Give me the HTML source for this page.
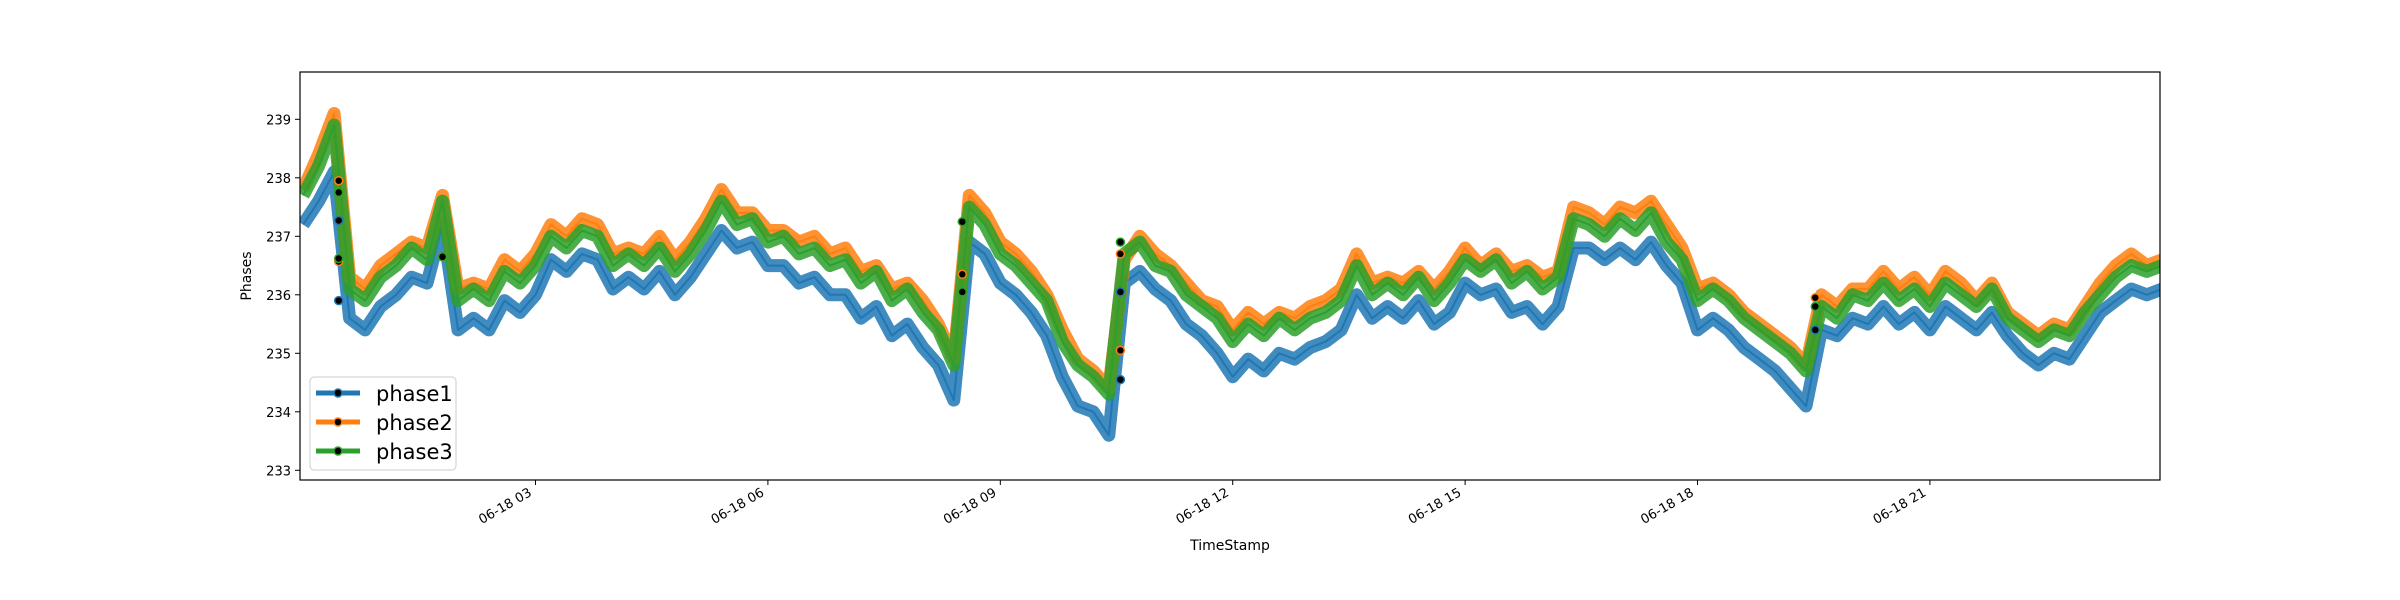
<!DOCTYPE html>
<html><head><meta charset="utf-8"><style>
html,body{margin:0;padding:0;background:#fff}
svg{display:block;font-family:"DejaVu Sans","Liberation Sans",sans-serif}
</style></head><body>
<svg id="chart" width="2400" height="600" viewBox="0 0 2400 600" xmlns="http://www.w3.org/2000/svg">
<defs><clipPath id="plotclip"><rect x="300" y="72" width="1860" height="408"/></clipPath></defs>
<rect x="0" y="0" width="2400" height="600" fill="#fff"/>
<g id="series" clip-path="url(#plotclip)"></g>
<g id="markers" clip-path="url(#plotclip)"></g>
<rect x="300" y="72" width="1860" height="408" fill="none" stroke="#000" stroke-width="1.2"/>
<g id="axes"></g>
<text x="251" y="276" transform="rotate(-90 251 276)" text-anchor="middle" font-size="14">Phases</text>
<text x="1230" y="550" text-anchor="middle" font-size="14">TimeStamp</text>
<g>
<rect x="310" y="377" width="146" height="93" rx="4" fill="#fff" fill-opacity="0.8" stroke="#ccc"/>
<g><line x1="316" y1="393" x2="360" y2="393" stroke="#1f77b4" stroke-width="5"/><circle cx="338" cy="393" r="4" fill="#000" stroke="#1f77b4" stroke-width="1.5"/><text x="376" y="401" font-size="21">phase1</text></g>
<g><line x1="316" y1="422" x2="360" y2="422" stroke="#ff7f0e" stroke-width="5"/><circle cx="338" cy="422" r="4" fill="#000" stroke="#ff7f0e" stroke-width="1.5"/><text x="376" y="430" font-size="21">phase2</text></g>
<g><line x1="316" y1="451" x2="360" y2="451" stroke="#2ca02c" stroke-width="5"/><circle cx="338" cy="451" r="4" fill="#000" stroke="#2ca02c" stroke-width="1.5"/><text x="376" y="459" font-size="21">phase3</text></g>
</g>
</svg>
<script>
const startHour = 0;
const stepHours = 0.2;
const phase3 = [237.7,238.2,238.9,236.1,235.9,236.3,236.5,236.8,236.6,237.6,235.9,236.1,235.9,236.4,236.2,236.5,237.0,236.8,237.1,237.0,236.5,236.7,236.5,236.8,236.4,236.7,237.1,237.6,237.2,237.3,236.9,237.0,236.7,236.8,236.5,236.6,236.2,236.4,235.9,236.1,235.7,235.4,234.8,237.5,237.2,236.7,236.5,236.2,235.9,235.2,234.8,234.6,234.3,236.7,236.9,236.5,236.4,236.0,235.8,235.6,235.2,235.5,235.3,235.6,235.4,235.6,235.7,235.9,236.5,236.0,236.2,236.0,236.3,235.9,236.2,236.6,236.4,236.6,236.2,236.4,236.1,236.3,237.3,237.2,237.0,237.3,237.1,237.4,236.9,236.6,235.9,236.1,235.9,235.6,235.4,235.2,235.0,234.7,235.8,235.6,236.0,235.9,236.2,235.9,236.1,235.8,236.2,236.0,235.8,236.1,235.6,235.4,235.2,235.4,235.3,235.7,236.0,236.3,236.5,236.4,236.5];
const phase2 = [237.8,238.4,239.1,236.3,236.1,236.5,236.7,236.9,236.8,237.7,236.1,236.2,236.1,236.6,236.4,236.7,237.2,237.0,237.3,237.2,236.7,236.8,236.7,237.0,236.6,236.9,237.3,237.8,237.4,237.4,237.1,237.1,236.9,237.0,236.7,236.8,236.4,236.5,236.1,236.2,235.9,235.5,234.9,237.7,237.4,236.9,236.7,236.4,236.0,235.4,234.9,234.7,234.4,236.6,237.0,236.7,236.5,236.2,235.9,235.8,235.4,235.7,235.5,235.7,235.6,235.8,235.9,236.1,236.7,236.2,236.3,236.2,236.4,236.1,236.4,236.8,236.5,236.7,236.4,236.5,236.3,236.4,237.5,237.4,237.2,237.5,237.4,237.6,237.2,236.8,236.1,236.2,236.0,235.7,235.5,235.3,235.1,234.8,236.0,235.8,236.1,236.1,236.4,236.1,236.3,236.0,236.4,236.2,235.9,236.2,235.7,235.5,235.3,235.5,235.4,235.8,236.2,236.5,236.7,236.5,236.6];
const phase1 = [237.2,237.6,238.1,235.6,235.4,235.8,236.0,236.3,236.2,237.2,235.4,235.6,235.4,235.9,235.7,236.0,236.6,236.4,236.7,236.6,236.1,236.3,236.1,236.4,236.0,236.3,236.7,237.1,236.8,236.9,236.5,236.5,236.2,236.3,236.0,236.0,235.6,235.8,235.3,235.5,235.1,234.8,234.2,236.9,236.7,236.2,236.0,235.7,235.3,234.6,234.1,234.0,233.6,236.2,236.4,236.1,235.9,235.5,235.3,235.0,234.6,234.9,234.7,235.0,234.9,235.1,235.2,235.4,236.0,235.6,235.8,235.6,235.9,235.5,235.7,236.2,236.0,236.1,235.7,235.8,235.5,235.8,236.8,236.8,236.6,236.8,236.6,236.9,236.5,236.2,235.4,235.6,235.4,235.1,234.9,234.7,234.4,234.1,235.4,235.3,235.6,235.5,235.8,235.5,235.7,235.4,235.8,235.6,235.4,235.7,235.3,235.0,234.8,235.0,234.9,235.3,235.7,235.9,236.1,236.0,236.1];
const markerTimes = [0.46,0.46,0.46,0.46,0.46,0.46,1.80,1.80,8.51,8.51,8.51,10.55,10.55,10.55,10.55,10.55,19.52,19.52,19.52];
const markerSeries = [1,1,2,2,3,3,2,3,3,2,3,3,2,1,2,1,2,3,1];
const markerValues = [237.27,235.9,237.95,236.57,237.75,236.62,236.65,236.65,237.25,236.35,236.05,236.9,236.7,236.05,235.05,234.55,235.95,235.8,235.4];
const yTicks = [233,234,235,236,237,238,239];
const xTickHours = [3,6,9,12,15,18,21];
const xTickLabels = ["06-18 03","06-18 06","06-18 09","06-18 12","06-18 15","06-18 18","06-18 21"];

const NS = "http://www.w3.org/2000/svg";
const X0 = 300, X1 = 2160, H0 = -0.04, H1 = 23.97;
function xScale(h){ return X0 + (h - H0) * (X1 - X0) / (H1 - H0); }
function yScale(v){ return 119.3 + (239 - v) * 58.5; }
const colors = {1:"#1f77b4",2:"#ff7f0e",3:"#2ca02c"};

const seriesG = document.getElementById('series');
[[phase1,1],[phase2,2],[phase3,3]].forEach(function(pair){
  const arr = pair[0], k = pair[1];
  const pts = arr.map(function(v,i){ return xScale(startHour + i*stepHours).toFixed(1)+","+yScale(v).toFixed(1); }).join(" ");
  const band = document.createElementNS(NS,'polyline');
  band.setAttribute('points', pts);
  band.setAttribute('fill','none');
  band.setAttribute('stroke', colors[k]);
  band.setAttribute('stroke-width','13');
  band.setAttribute('stroke-opacity','0.85');
  band.setAttribute('stroke-linejoin','round');
  
  
  seriesG.appendChild(band);
  const pl = document.createElementNS(NS,'polyline');
  pl.setAttribute('points', pts);
  pl.setAttribute('fill','none');
  pl.setAttribute('stroke', colors[k]);
  pl.setAttribute('stroke-width','2');
  pl.setAttribute('stroke-linejoin','round');
  
  
  seriesG.appendChild(pl);
});

const mG = document.getElementById('markers');
markerTimes.forEach(function(t,i){
  const c = document.createElementNS(NS,'circle');
  c.setAttribute('cx', xScale(t).toFixed(1));
  c.setAttribute('cy', yScale(markerValues[i]).toFixed(1));
  c.setAttribute('r','4');
  c.setAttribute('fill','#000');
  c.setAttribute('stroke', colors[markerSeries[i]]);
  c.setAttribute('stroke-width','1.5');
  
  
  mG.appendChild(c);
});

const axes = document.getElementById('axes');
yTicks.forEach(function(v){
  const y = yScale(v);
  const l = document.createElementNS(NS,'line');
  l.setAttribute('x1',295); l.setAttribute('x2',300);
  l.setAttribute('y1',y); l.setAttribute('y2',y);
  l.setAttribute('stroke','#000');
  
  
  axes.appendChild(l);
  const t = document.createElementNS(NS,'text');
  t.setAttribute('x',291); t.setAttribute('y',y+5);
  t.setAttribute('text-anchor','end'); t.setAttribute('font-size','13');
  t.textContent = v;
  
  
  axes.appendChild(t);
});
xTickHours.forEach(function(h,i){
  const x = xScale(h);
  const l = document.createElementNS(NS,'line');
  l.setAttribute('x1',x); l.setAttribute('x2',x);
  l.setAttribute('y1',480); l.setAttribute('y2',485);
  l.setAttribute('stroke','#000');
  
  
  axes.appendChild(l);
  const t = document.createElementNS(NS,'text');
  const tx = x - 3, ty = 495;
  t.setAttribute('x',tx); t.setAttribute('y',ty);
  t.setAttribute('text-anchor','end'); t.setAttribute('font-size','13');
  t.setAttribute('transform','rotate(-30 '+tx+' '+ty+')');
  t.textContent = xTickLabels[i];
  
  
  axes.appendChild(t);
});
</script>
</body></html>
